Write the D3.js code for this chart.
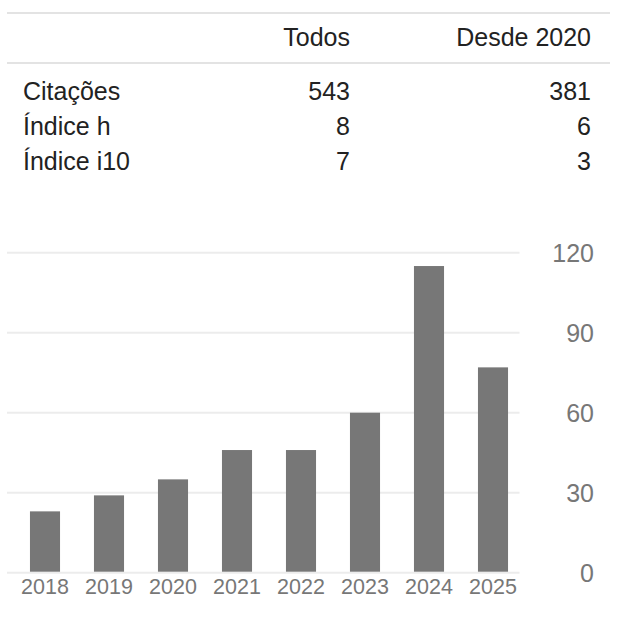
<!DOCTYPE html>
<html><head><meta charset="utf-8">
<script src="https://cdn.jsdelivr.net/npm/d3@7"></script>
<style>
html,body{margin:0;padding:0;background:#fff;}
svg{display:block;font-family:"Liberation Sans",Arial,Helvetica,sans-serif;}
</style></head>
<body>
<svg id="c" width="634" height="636"></svg>
<script>
const columns = ["Todos", "Desde 2020"];
const rowLabels = ["Citações", "Índice h", "Índice i10"];
const valuesAll = ["543", "8", "7"];
const valuesSince = ["381", "6", "3"];

const years = ["2018","2019","2020","2021","2022","2023","2024","2025"];
const citations = [23, 29, 35, 46, 46, 60, 115, 77];
const yTicks = [0, 30, 60, 90, 120];

const svg = d3.select("#c");

// ---- table ----
const textColor = "#222";
const lineColor = "#e3e3e3";
const colX = [350, 591];
svg.append("line").attr("x1",7).attr("x2",610).attr("y1",13).attr("y2",13)
  .attr("stroke",lineColor).attr("stroke-width",2);
svg.append("line").attr("x1",7).attr("x2",610).attr("y1",63).attr("y2",63)
  .attr("stroke",lineColor).attr("stroke-width",2);
columns.forEach((c,i)=>{
  svg.append("text").attr("x",colX[i]).attr("y",46).attr("text-anchor","end")
    .attr("font-size",25).attr("fill",textColor).text(c);
});
const rowY = [99.5, 134.5, 169.5];
rowLabels.forEach((r,i)=>{
  svg.append("text").attr("x",23).attr("y",rowY[i]).attr("font-size",25).attr("fill",textColor).text(r);
  svg.append("text").attr("x",colX[0]).attr("y",rowY[i]).attr("text-anchor","end")
    .attr("font-size",25).attr("fill",textColor).text(valuesAll[i]);
  svg.append("text").attr("x",colX[1]).attr("y",rowY[i]).attr("text-anchor","end")
    .attr("font-size",25).attr("fill",textColor).text(valuesSince[i]);
});

// ---- chart ----
const x = d3.scaleBand().domain(years).range([13, 525]).paddingInner(0.53).paddingOuter(0.265);
const y = d3.scaleLinear().domain([0, 120]).range([572.7, 252.7]);

const grid = svg.append("g");
grid.selectAll("line").data(yTicks).join("line")
  .attr("x1",7).attr("x2",519.5)
  .attr("y1",d=>y(d)).attr("y2",d=>y(d))
  .attr("stroke","#ececec").attr("stroke-width",2);

svg.append("g").selectAll("rect").data(citations).join("rect")
  .attr("x",(d,i)=>x(years[i]))
  .attr("width",x.bandwidth())
  .attr("y",d=>y(d))
  .attr("height",d=>y(0)-1-y(d))
  .attr("fill","#777");

// x axis labels
const xAxis = d3.axisBottom(x).tickSize(0).tickPadding(0);
const gx = svg.append("g").attr("transform","translate(0,594)").call(xAxis);
gx.select(".domain").remove();
gx.selectAll("text").attr("font-size",21.5).attr("fill","#777")
  .attr("font-family","'Liberation Sans',Arial,sans-serif").attr("dy",0).attr("y",0);

// y axis labels (right)
const yAxis = d3.axisRight(y).tickValues(yTicks).tickSize(0).tickPadding(0);
const gy = svg.append("g").attr("transform","translate(594,0)").call(yAxis);
gy.select(".domain").remove();
gy.selectAll("text").attr("font-size",25).attr("fill","#777").attr("text-anchor","end")
  .attr("x",0).attr("dy","0.35em")
  .attr("font-family","'Liberation Sans',Arial,sans-serif");
</script>
</body></html>
